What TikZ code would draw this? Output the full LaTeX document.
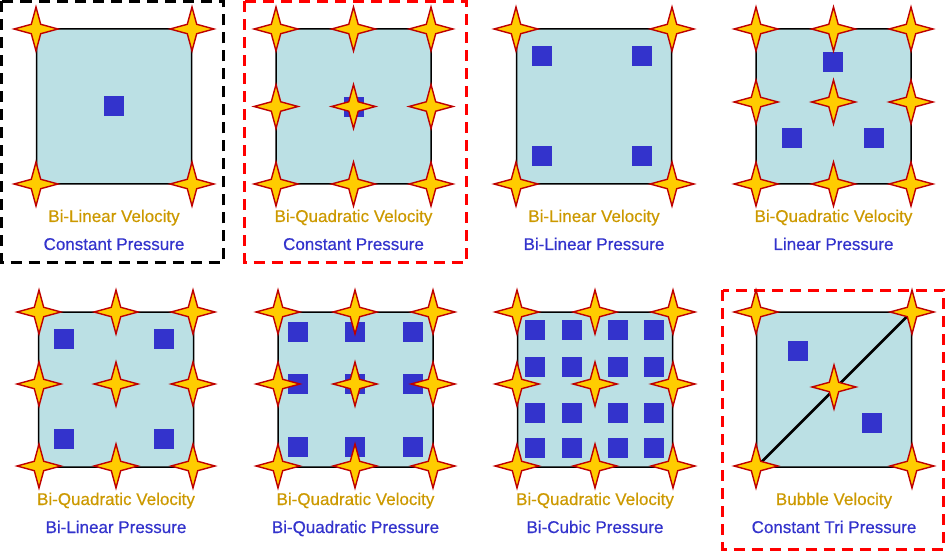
\documentclass[tikz,border=0pt]{standalone}
\usepackage{fontspec}
\setmainfont{Liberation Sans}
\newfontfamily\lblfont{Liberation Sans}[FakeBold=0.5]
\definecolor{cellfill}{RGB}{187,224,228}
\definecolor{sqblue}{RGB}{51,51,204}
\definecolor{velgold}{RGB}{204,153,0}
\definecolor{stfill}{RGB}{255,204,0}
\definecolor{stedge}{RGB}{190,0,0}
\tikzset{
  cell/.style={draw=black, line width=1.5pt, fill=cellfill, rounded corners=10pt,
    minimum width=155pt, minimum height=155pt, inner sep=0pt},
  sq/.style={fill=sqblue, minimum size=20pt, inner sep=0pt},
  vel/.style={text=velgold, anchor=base, font=\lblfont\fontsize{17}{20}\selectfont, inner sep=0pt},
  pres/.style={text=sqblue, anchor=base, font=\lblfont\fontsize{17}{20}\selectfont, inner sep=0pt},
  blkframe/.style={draw=black, line width=3pt, dash pattern=on 11pt off 7pt},
  redframe/.style={draw=red, line width=3pt, dash pattern=on 11pt off 7pt},
  gstar/.pic={\filldraw[fill=stfill, draw=stedge, line width=1.4pt, line join=miter]
    (22,0) -- (4.7,4.7) -- (0,22) -- (-4.7,4.7) -- (-22,0) -- (-4.7,-4.7) -- (0,-22) -- (4.7,-4.7) -- cycle;}
}
\begin{document}
\begin{tikzpicture}[x=1pt, y=-1pt]
\useasboundingbox (0,0) rectangle (947,553);
% frames
\draw[blkframe] (1.5,1.5) rectangle (223.5,262.5);
\draw[redframe] (244.5,1.5) rectangle (466,262.5);
\draw[redframe] (722.5,290) rectangle (943.5,549);
% ---------- panel 1
\node[cell] (b1) at (114,106.5) {};
\node[sq] (s1) at (114,106) {};
\foreach \x/\y in {36/29,192/29,36/184,192/184} \pic at (\x,\y) {gstar};
\node[vel] (v1) at (114,222) {Bi-Linear Velocity};
\node[pres] (p1) at (114,250) {Constant Pressure};
% ---------- panel 2
\node[cell] (b2) at (353.5,106.5) {};
\node[sq] (s2) at (353.5,107) {};
\foreach \x in {276,353.5,431} \foreach \y in {29,106.5,184} \pic at (\x,\y) {gstar};
\node[vel] (v2) at (353.5,222) {Bi-Quadratic Velocity};
\node[pres] (p2) at (353.5,250) {Constant Pressure};
% ---------- panel 3
\node[cell] (b3) at (594,106.5) {};
\node[sq] (s3a) at (542,56) {};
\node[sq] (s3b) at (642,56) {};
\node[sq] (s3c) at (542,156) {};
\node[sq] (s3d) at (642,156) {};
\foreach \x/\y in {516/29,672/29,516/184,672/184} \pic at (\x,\y) {gstar};
\node[vel] (v3) at (594,222) {Bi-Linear Velocity};
\node[pres] (p3) at (594,250) {Bi-Linear Pressure};
% ---------- panel 4
\node[cell] (b4) at (833.5,106.5) {};
\node[sq] (s4a) at (833,62) {};
\node[sq] (s4b) at (792,138) {};
\node[sq] (s4c) at (874,138) {};
\foreach \x in {756,833.5,911} \foreach \y in {29,102,184} \pic at (\x,\y) {gstar};
\node[vel] (v4) at (833.5,222) {Bi-Quadratic Velocity};
\node[pres] (p4) at (833.5,250) {Linear Pressure};
% ---------- panel 5
\node[cell] (b5) at (116,389.5) {};
\foreach \x in {64,164} \foreach \y in {339,439} \node[sq] at (\x,\y) {};
\foreach \x in {39,116,193} \foreach \y in {312,384,466} \pic at (\x,\y) {gstar};
\node[vel] (v5) at (116,505) {Bi-Quadratic Velocity};
\node[pres] (p5) at (116,533) {Bi-Linear Pressure};
% ---------- panel 6
\node[cell] (b6) at (355.5,389.5) {};
\foreach \x in {298,355,413} \foreach \y in {332,384,447} \node[sq] at (\x,\y) {};
\foreach \x in {278,355,433} \foreach \y in {312,384,466} \pic at (\x,\y) {gstar};
\node[vel] (v6) at (355.5,505) {Bi-Quadratic Velocity};
\node[pres] (p6) at (355.5,533) {Bi-Quadratic Pressure};
% ---------- panel 7
\node[cell] (b7) at (595,389.5) {};
\foreach \x in {535,572,618,654} \foreach \y in {330,367,413,448} \node[sq] at (\x,\y) {};
\foreach \x in {517,595,673} \foreach \y in {312,384,466} \pic at (\x,\y) {gstar};
\node[vel] (v7) at (595,505) {Bi-Quadratic Velocity};
\node[pres] (p7) at (595,533) {Bi-Cubic Pressure};
% ---------- panel 8
\node[cell] (b8) at (834,389.5) {};
\draw[line width=2.5pt] (b8.south west) -- (b8.north east);
\node[sq] (s8a) at (798,351) {};
\node[sq] (s8b) at (872,423) {};
\foreach \x/\y in {756/312,912/312,756/466,912/466,834/387} \pic at (\x,\y) {gstar};
\node[vel] (v8) at (834,505) {Bubble Velocity};
\node[pres] (p8) at (834,533) {Constant Tri Pressure};
\end{tikzpicture}
\end{document}
